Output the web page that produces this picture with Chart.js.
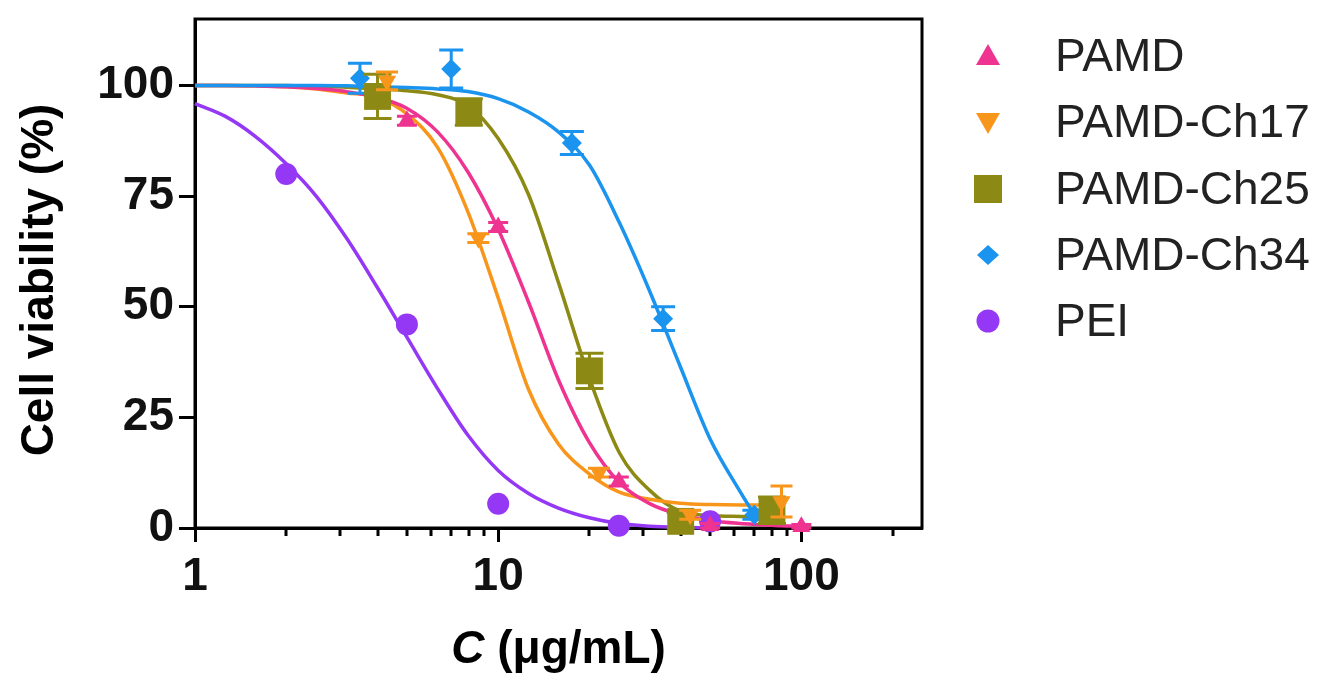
<!DOCTYPE html>
<html>
<head>
<meta charset="utf-8">
<script src="https://cdn.jsdelivr.net/npm/chart.js@4.4.1/dist/chart.umd.min.js"></script>
<style>
  html, body { margin: 0; padding: 0; background: #fff; }
  #wrap { width: 1340px; height: 689px; }
</style>
</head>
<body>
<div id="wrap"><canvas id="chart" width="1340" height="689"></canvas></div>
<script>
const FONT = "'Liberation Sans', Arial, Helvetica, sans-serif"

const seriesNames = ['PAMD', 'PAMD-Ch17', 'PAMD-Ch25', 'PAMD-Ch34', 'PEI']
const seriesColors = ['#ee3390', '#f8961c', '#8c8a14', '#1a94ee', '#9438f5']

// measured points: concentration (µg/mL), viability (%), error
const pamdX = [5, 10, 25, 50, 100]
const pamdY = [92, 68, 10.5, 0.5, 0.3]
const pamdErr = [1, 1, 1, 0.5, 0.5]

const ch17X = [4.3, 8.6, 21.5, 43, 86]
const ch17Y = [101, 65.5, 12.5, 3, 6]
const ch17Err = [2, 1, 1, 1, 3.5]

const ch25X = [4, 8, 20, 40, 80]
const ch25Y = [97.5, 94, 35.5, 1.5, 4]
const ch25Err = [5, 3, 4, 2, 3]

const ch34X = [3.5, 7, 17.5, 35, 70]
const ch34Y = [101.6, 103.7, 87, 47.3, 3]
const ch34Err = [3.4, 4.3, 2.6, 2.7, 1]

const peiX = [2, 5, 10, 25, 50]
const peiY = [80, 46, 5.5, 0.5, 1.5]
const peiErr = [0, 0, 0, 0, 0]

// fitted curves at these concentrations
const curveX = [1, 1.26, 1.58, 2, 2.51, 3.16, 3.98, 5.01, 6.31, 7.94, 10, 12.6, 15.8, 20, 25.1, 31.6, 39.8, 50.1, 63.1, 70, 80, 86, 100]
const pamdFit = [100, 100, 99.9, 99.7, 99.3, 98.6, 97.3, 94.8, 89.5, 80.5, 67.5, 51, 33.5, 19.3, 10.3, 5.5, 3, 1.7, 1, 0.8, 0.6, 0.5, 0.4]
const ch17Fit = [100, 100, 99.9, 99.7, 99.2, 98.3, 97.3, 93.5, 86, 71.5, 52, 31.3, 19, 12.2, 8.1, 6.5, 5.6, 5.3, 5.2, 5.2, 5.2, 5.2, null]
const ch25Fit = [100, 100, 100, 100, 99.8, 99.6, 99.2, 98.8, 97.9, 95.5, 88, 75.3, 55.5, 33.8, 17, 8.5, 3.8, 2.8, 2.6, 2.55, 2.5, null, null]
const ch34Fit = [100, 100, 100, 100, 100, 99.9, 99.7, 99.5, 99.2, 98.6, 97, 94, 89.5, 82, 69, 53.5, 36.6, 20, 8, 3, null, null, null]
const peiFit = [95.9, 93, 88.5, 82.3, 75, 65.5, 54.5, 43, 31.5, 21, 13, 7.8, 4.5, 2.3, 1.0, 0.4, 0.15, 0.05, null, null, null, null, null]

const yTicks = [0, 25, 50, 75, 100]
const xTicks = [1, 10, 100]
const xMinorTicks = [2, 3, 4, 5, 6, 7, 8, 9, 20, 30, 40, 50, 60, 70, 80, 90, 200]

const pointSets = [
  { x: pamdX, y: pamdY, err: pamdErr, style: 'triangle', rot: 0, r: 10.5, cap: 20 },
  { x: ch17X, y: ch17Y, err: ch17Err, style: 'triangle', rot: 180, r: 10.5, cap: 22 },
  { x: ch25X, y: ch25Y, err: ch25Err, style: 'rect', rot: 0, r: 19, cap: 28 },
  { x: ch34X, y: ch34Y, err: ch34Err, style: 'rectRot', rot: 0, r: 10, cap: 24 },
  { x: peiX, y: peiY, err: peiErr, style: 'circle', rot: 0, r: 11, cap: 20 },
]
const fits = [pamdFit, ch17Fit, ch25Fit, ch34Fit, peiFit]

const datasets = []
pointSets.forEach((s, i) => {
  datasets.push({
    label: seriesNames[i],
    data: s.x.map((x, j) => ({ x, y: s.y[j] })),
    errors: s.err,
    capWidth: s.cap,
    backgroundColor: seriesColors[i],
    borderColor: seriesColors[i],
    borderWidth: 0,
    pointStyle: s.style,
    rotation: s.rot,
    pointRadius: s.r,
    pointHoverRadius: s.r,
    showLine: false,
    clip: false,
    order: 0,
  })
})
fits.forEach((f, i) => {
  const pts = []
  curveX.forEach((x, j) => { if (f[j] !== null) pts.push({ x, y: f[j] }) })
  datasets.push({
    label: seriesNames[i] + ' fit',
    data: pts,
    showLine: true,
    borderColor: seriesColors[i],
    borderWidth: 3.5,
    pointRadius: 0,
    cubicInterpolationMode: 'monotone',
    fill: false,
    clip: false,
    order: i === 3 ? 1 : 2,
  })
})

const decor = {
  id: 'decor',
  beforeDatasetsDraw(chart) {
    const { ctx, chartArea: a, scales } = chart
    ctx.save()
    ctx.strokeStyle = '#000'
    ctx.lineWidth = 3
    ctx.strokeRect(a.left, a.top, a.right - a.left, a.bottom - a.top)
    ctx.beginPath()
    xMinorTicks.forEach((v) => {
      const px = Math.round(scales.x.getPixelForValue(v))
      ctx.moveTo(px, a.bottom)
      ctx.lineTo(px, a.bottom + 8)
    })
    ctx.stroke()
    ctx.restore()
  },
  beforeDatasetDraw(chart, args) {
    const ds = chart.data.datasets[args.index]
    if (!ds.errors) return
    const { ctx, scales } = chart
    ctx.save()
    ctx.strokeStyle = ds.borderColor
    ctx.lineWidth = 3
    ds.data.forEach((p, j) => {
      const e = ds.errors[j]
      if (!e) return
      const px = scales.x.getPixelForValue(p.x)
      const y1 = scales.y.getPixelForValue(p.y + e)
      const y2 = scales.y.getPixelForValue(Math.max(p.y - e, 0))
      const h = ds.capWidth / 2
      ctx.beginPath()
      ctx.moveTo(px, y1); ctx.lineTo(px, y2)
      ctx.moveTo(px - h, y1); ctx.lineTo(px + h, y1)
      ctx.moveTo(px - h, y2); ctx.lineTo(px + h, y2)
      ctx.stroke()
    })
    ctx.restore()
  },
  afterDraw(chart) {
    const { ctx, chartArea: a } = chart
    ctx.save()
    ctx.fillStyle = '#000'
    // y title
    ctx.save()
    ctx.translate(40, 280)
    ctx.rotate(-Math.PI / 2)
    ctx.font = 'bold 46px ' + FONT
    ctx.textAlign = 'center'
    ctx.textBaseline = 'middle'
    ctx.fillText('Cell viability (%)', 0, 0)
    ctx.restore()
    // x title, italic C
    const partC = 'C'
    const partRest = ' (μg/mL)'
    ctx.textBaseline = 'middle'
    ctx.textAlign = 'left'
    ctx.font = 'italic bold 46px ' + FONT
    const wC = ctx.measureText(partC).width
    ctx.font = 'bold 46px ' + FONT
    const wR = ctx.measureText(partRest).width
    const x0 = (a.left + a.right) / 2 - (wC + wR) / 2
    ctx.font = 'italic bold 46px ' + FONT
    ctx.fillText(partC, x0, 650)
    ctx.font = 'bold 46px ' + FONT
    ctx.fillText(partRest, x0 + wC, 650)
    // legend
    const rows = [56, 122, 189, 255, 321]
    ctx.font = '46px ' + FONT
    seriesNames.forEach((name, i) => {
      const cx = 988, cy = rows[i]
      ctx.fillStyle = seriesColors[i]
      ctx.beginPath()
      const st = pointSets[i].style
      if (st === 'triangle') {
        const s = pointSets[i].rot ? -1 : 1
        ctx.moveTo(cx, cy - s * 12)
        ctx.lineTo(cx + 12, cy + s * 9)
        ctx.lineTo(cx - 12, cy + s * 9)
      } else if (st === 'rect') {
        ctx.rect(cx - 14, cy - 14, 28, 28)
      } else if (st === 'rectRot') {
        ctx.moveTo(cx, cy - 10); ctx.lineTo(cx + 11, cy); ctx.lineTo(cx, cy + 10); ctx.lineTo(cx - 11, cy)
      } else {
        ctx.arc(cx, cy, 11.5, 0, Math.PI * 2)
      }
      ctx.closePath()
      ctx.fill()
      ctx.fillStyle = '#222'
      ctx.fillText(name, 1055, cy + 2)
    })
    ctx.restore()
  },
}

const ctx = document.getElementById('chart').getContext('2d')
new Chart(ctx, {
  type: 'scatter',
  data: { datasets },
  options: {
    responsive: false,
    animation: false,
    devicePixelRatio: 1,
    layout: { padding: { top: 12, right: 418, left: 0, bottom: 0 } },
    plugins: { legend: { display: false }, tooltip: { enabled: false } },
    scales: {
      x: {
        type: 'logarithmic',
        min: 1,
        max: 250,
        afterFit: (s) => { s.height = 689 - 528 },
        afterBuildTicks: (s) => { s.ticks = xTicks.map((v) => ({ value: v })) },
        border: { display: true, color: '#000', width: 3 },
        grid: { drawOnChartArea: false, tickLength: 14, tickWidth: 3, tickColor: '#000' },
        ticks: {
          color: '#111',
          font: { family: FONT, size: 46, weight: 'bold' },
          padding: 8,
          maxRotation: 0,
          autoSkip: false,
          callback: (v) => String(v),
        },
      },
      y: {
        min: 0,
        max: 115,
        afterFit: (s) => { s.width = 195; s.paddingTop = 0; s.paddingBottom = 0 },
        afterBuildTicks: (s) => { s.ticks = yTicks.map((v) => ({ value: v })) },
        border: { display: true, color: '#000', width: 3 },
        grid: { drawOnChartArea: false, tickLength: 16, tickWidth: 3, tickColor: '#000' },
        ticks: {
          color: '#111',
          font: { family: FONT, size: 46, weight: 'bold' },
          padding: 5,
          callback: (v) => String(v),
        },
      },
    },
  },
  plugins: [decor],
})
</script>
</body>
</html>
